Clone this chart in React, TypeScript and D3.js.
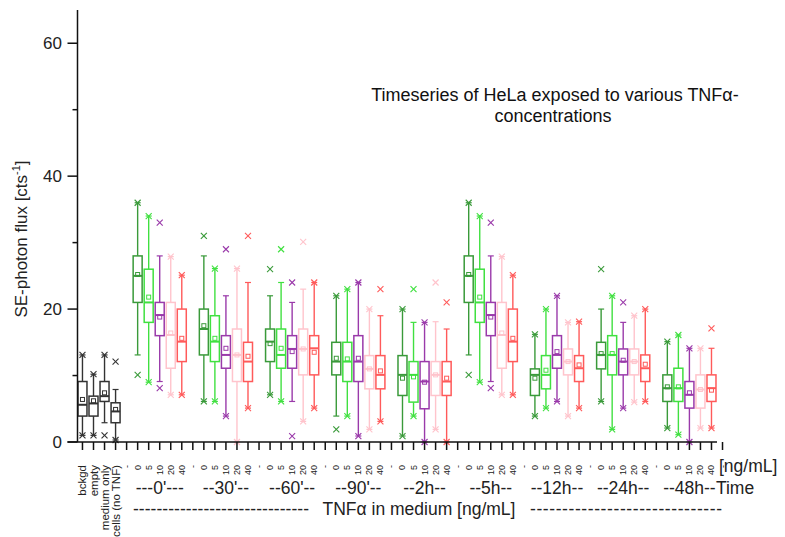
import React from "react";
import * as d3 from "d3";

// ---- data ----
// tuple: [xMarkLow, whiskerLow, q1, median, q3, whiskerHigh, xMarkHigh, mean]
type Stat = [number, number, number, number, number, number, number, number];

const controlLabels = ["bckgd", "empty", "medium only", "cells (no TNF)"];
const controlBoxes: Stat[] = [
  [1.0, 1.0, 3.9, 5.6, 9.1, 13.1, 13.1, 6.4],
  [1.0, 1.0, 3.9, 5.8, 6.9, 10.2, 10.2, 6.2],
  [1.0, 2.9, 6.1, 6.9, 9.1, 13.1, 13.1, 7.4],
  [0.3, 0.3, 2.9, 4.6, 5.9, 7.9, 12.1, 4.9],
];

const concentrations = ["0", "5", "10", "20", "40"];
const seriesColors = ["#3a9a3a", "#40e040", "#9a3aaa", "#ffc4cc", "#ff5a5a"];
const timeLabels = ["---0'---", "--30'--", "--60'--", "--90'--", "--2h--", "--5h--", "--12h--", "--24h--", "--48h--"];

const g0min: Stat[] = [
  [10.1, 13.1, 21.0, 25.0, 28.0, 36.0, 36.0, 25.2],
  [9.0, 9.0, 18.0, 21.0, 26.0, 34.0, 34.0, 21.8],
  [8.1, 9.1, 16.0, 19.1, 21.0, 28.0, 33.0, 18.8],
  [7.1, 7.1, 11.1, 16.1, 21.0, 27.9, 27.9, 16.4],
  [7.1, 7.1, 12.1, 15.1, 20.0, 25.1, 25.1, 15.6],
];
const g30min: Stat[] = [
  [6.1, 6.1, 13.1, 17.0, 20.0, 28.0, 31.0, 17.5],
  [6.1, 6.1, 12.1, 15.1, 19.0, 26.1, 26.1, 15.6],
  [3.9, 3.9, 11.1, 13.1, 16.0, 22.0, 29.0, 14.1],
  [0, 0, 9.1, 13.1, 17.0, 26.1, 26.1, 13.1],
  [5.1, 5.1, 9.1, 12.1, 15.0, 24.0, 31.0, 12.9],
];
const g60min: Stat[] = [
  [7.1, 7.1, 12.1, 15.1, 17.0, 22.0, 26.0, 14.8],
  [6.1, 6.1, 11.1, 13.1, 17.0, 24.0, 29.0, 14.1],
  [0.9, 6.1, 11.1, 14.0, 16.0, 21.0, 24.0, 13.6],
  [3.1, 3.1, 10.1, 14.0, 17.0, 23.0, 30.1, 14.0],
  [5.1, 5.1, 10.1, 14.1, 16.0, 24.0, 24.0, 13.5],
];
const g90min: Stat[] = [
  [1.9, 3.9, 10.1, 12.1, 15.0, 22.0, 22.0, 12.6],
  [3.9, 3.9, 9.1, 12.1, 15.0, 23.0, 23.0, 12.5],
  [0.9, 0.9, 9.1, 12.1, 16.0, 24.0, 24.0, 12.6],
  [1.9, 1.9, 8.0, 11.0, 13.0, 20.0, 20.0, 11.0],
  [3.1, 3.1, 8.0, 10.1, 13.0, 19.0, 23.0, 10.7],
];
const g2h: Stat[] = [
  [0.9, 0.9, 7.0, 10.1, 13.0, 20.0, 20.0, 9.6],
  [3.9, 3.9, 6.0, 10.1, 12.1, 18.0, 23.0, 9.8],
  [0, 0, 5.0, 9.1, 12.1, 18.0, 18.0, 9.0],
  [1.9, 1.9, 7.0, 10.1, 12.1, 18.1, 24.0, 10.1],
  [0, 0, 7.0, 9.1, 12.1, 17.0, 21.0, 9.6],
];
const g5h: Stat[] = [
  [10.1, 13.1, 21.0, 25.0, 28.0, 36.0, 36.0, 25.2],
  [9.0, 9.0, 18.0, 21.0, 26.0, 34.0, 34.0, 21.8],
  [8.1, 9.1, 16.0, 19.1, 21.0, 28.0, 33.0, 18.8],
  [7.1, 7.1, 11.1, 16.1, 21.0, 27.9, 27.9, 16.4],
  [7.1, 7.1, 12.1, 15.1, 20.0, 25.1, 25.1, 15.6],
];
const g12h: Stat[] = [
  [3.9, 3.9, 7.0, 10.1, 11.0, 16.2, 16.2, 9.6],
  [5.1, 5.1, 8.0, 10.1, 13.0, 20.0, 20.0, 10.8],
  [6.1, 6.1, 11.1, 13.1, 16.0, 22.0, 22.0, 13.6],
  [3.9, 3.9, 10.1, 12.1, 14.0, 18.0, 18.0, 12.1],
  [5.1, 5.1, 9.1, 11.1, 13.0, 18.1, 18.1, 11.6],
];
const g24h: Stat[] = [
  [6.1, 6.1, 11.0, 13.1, 15.0, 20.0, 26.0, 13.3],
  [1.9, 1.9, 10.1, 13.1, 16.0, 22.0, 22.0, 13.3],
  [5.1, 5.1, 10.1, 12.1, 14.0, 18.0, 21.0, 12.3],
  [6.0, 6.0, 10.1, 12.1, 14.0, 19.0, 19.0, 12.1],
  [6.1, 6.1, 9.1, 11.1, 13.1, 20.0, 20.0, 11.7],
];
const g48h: Stat[] = [
  [2.1, 2.1, 6.1, 8.1, 10.1, 15.1, 15.1, 8.3],
  [1.1, 1.1, 6.1, 8.1, 11.1, 16.1, 16.1, 8.3],
  [0, 0, 5.1, 7.1, 9.1, 14.1, 14.1, 7.4],
  [2.1, 2.1, 5.1, 7.9, 10.1, 14.1, 14.1, 7.9],
  [2.1, 2.1, 6.1, 8.1, 10.1, 14.1, 17.1, 7.8],
];
const timeGroups = [g0min, g30min, g60min, g90min, g2h, g5h, g12h, g24h, g48h];

const yMajorTicks = [0, 20, 40, 60];
const yMinorTicks = [10, 30, 50];

// ---- layout ----
const W = 785;
const H = 537;
const FONT = "'Liberation Sans', Arial, Helvetica, sans-serif";
const xScale = d3.scaleLinear().domain([-0.45, 57.5]).range([77.5, 717]);
const yScale = d3.scaleLinear().domain([0, 65]).range([442, 10]);
const controlColor = "#333333";

type Slot = { slot: number; stat: Stat; color: string };
const slots: Slot[] = [];
controlBoxes.forEach((s, i) => slots.push({ slot: i, stat: s, color: controlColor }));
timeGroups.forEach((g, gi) =>
  g.forEach((s, k) => slots.push({ slot: 5 + gi * 6 + k, stat: s, color: seriesColors[k] }))
);
const nSlots = 5 + timeGroups.length * 6 - 1; // 0..57

const BW = 4.5;
const CAP = 3;
const XM = 3;

function XMark({ cx, cy, color }: { cx: number; cy: number; color: string }) {
  return (
    <g stroke={color} strokeWidth={1.1} fill="none">
      <line x1={cx - XM} y1={cy - XM} x2={cx + XM} y2={cy + XM} />
      <line x1={cx - XM} y1={cy + XM} x2={cx + XM} y2={cy - XM} />
    </g>
  );
}

function Box({ slot, stat, color }: Slot) {
  const cx = xScale(slot);
  const [xLo, wLo, q1, med, q3, wHi, xHi, mean] = stat;
  const y = yScale;
  return (
    <g>
      <line x1={cx} x2={cx} y1={y(q3)} y2={y(wHi)} stroke={color} strokeWidth={1.4} />
      <line x1={cx} x2={cx} y1={y(q1)} y2={y(wLo)} stroke={color} strokeWidth={1.4} />
      <line x1={cx - CAP} x2={cx + CAP} y1={y(wHi)} y2={y(wHi)} stroke={color} strokeWidth={1.2} />
      <line x1={cx - CAP} x2={cx + CAP} y1={y(wLo)} y2={y(wLo)} stroke={color} strokeWidth={1.2} />
      <rect x={cx - BW} y={y(q3)} width={BW * 2} height={y(q1) - y(q3)} fill="white" stroke={color} strokeWidth={1.5} />
      <line x1={cx - BW} x2={cx + BW} y1={y(med)} y2={y(med)} stroke={color} strokeWidth={2} />
      <rect x={cx - 2} y={y(mean) - 2} width={4} height={4} fill="none" stroke={color} strokeWidth={1} />
      <XMark cx={cx} cy={y(xHi)} color={color} />
      <XMark cx={cx} cy={y(xLo)} color={color} />
    </g>
  );
}

export default function App() {
  const axisY = yScale(0);
  const tickLabelFor = (i: number): string | null => {
    if (i < 4) return null;
    const r = (i - 4) % 6;
    if (r === 0) return "-";
    return concentrations[r - 1];
  };
  const slotIdx = d3.range(0, nSlots + 1);
  return (
    <svg width={W} height={H} style={{ position: "absolute", left: 0, top: 0, background: "white" }} fontFamily={FONT}>
      <rect x={0} y={0} width={W} height={H} fill="white" />
      {/* boxes */}
      {slots.map((s, i) => (
        <Box key={i} {...s} />
      ))}
      {/* y axis */}
      <line x1={xScale.range()[0]} x2={xScale.range()[0]} y1={yScale.range()[1]} y2={axisY} stroke="#111" strokeWidth={1.5} />
      {yMajorTicks.map((t) => (
        <g key={"ym" + t}>
          <line x1={xScale.range()[0] - 10} x2={xScale.range()[0]} y1={yScale(t)} y2={yScale(t)} stroke="#111" strokeWidth={1.5} />
          <text x={62} y={yScale(t) + 6} textAnchor="end" fontSize={17} fill="#222">
            {t}
          </text>
        </g>
      ))}
      {yMinorTicks.map((t) => (
        <line key={"yn" + t} x1={xScale.range()[0] - 5} x2={xScale.range()[0]} y1={yScale(t)} y2={yScale(t)} stroke="#111" strokeWidth={1.5} />
      ))}
      {/* x axis */}
      <line x1={xScale.range()[0] - 10} x2={xScale.range()[1]} y1={axisY} y2={axisY} stroke="#111" strokeWidth={1.5} />
      {slotIdx.map((i) => (
        <line key={"xt" + i} x1={xScale(i)} x2={xScale(i)} y1={axisY} y2={axisY + 8} stroke="#111" strokeWidth={1.5} />
      ))}
      {/* control labels */}
      {controlLabels.map((l, i) => (
        <text key={"cl" + i} transform={`translate(${xScale(i) + 4},465) rotate(-90)`} textAnchor="end" fontSize={11.5} fill="#222">
          {l}
        </text>
      ))}
      {/* concentration labels */}
      {slotIdx.map((i) => {
        const l = tickLabelFor(i);
        if (l === null) return null;
        return (
          <text key={"tl" + i} transform={`translate(${xScale(i) + 3},465) rotate(-90)`} textAnchor="end" fontSize={9} fill="#222">
            {l}
          </text>
        );
      })}
      <text x={719} y={472} fontSize={17.5} fill="#222">
        [ng/mL]
      </text>
      {/* time labels */}
      {timeLabels.map((l, gi) => (
        <text key={"tg" + gi} x={xScale(5 + gi * 6 + 2)} y={494} textAnchor="middle" fontSize={17.5} fill="#222">
          {l}
        </text>
      ))}
      <text x={xScale(55) + 26.5} y={494} fontSize={17.5} fill="#222">
        Time
      </text>
      {/* bottom caption */}
      <text x={133} y={515} fontSize={17.5} fill="#222" textLength={176} lengthAdjust="spacing">
        ------------------------------
      </text>
      <text x={419} y={515} textAnchor="middle" fontSize={17.5} fill="#222">
        TNFα in medium [ng/mL]
      </text>
      <text x={530} y={515} fontSize={17.5} fill="#222" textLength={192} lengthAdjust="spacing">
        ------------------------------
      </text>
      {/* y title */}
      <text transform="translate(27,239) rotate(-90)" textAnchor="middle" fontSize={17} fill="#222">
        SE-photon flux [cts
        <tspan fontSize={11} dy={-7}>-1</tspan>
        <tspan dy={7}>]</tspan>
      </text>
      {/* title */}
      <text x={555} y={101} textAnchor="middle" fontSize={18} fill="#111">
        Timeseries of HeLa exposed to various TNFα-
      </text>
      <text x={553} y={122} textAnchor="middle" fontSize={18} fill="#111">
        concentrations
      </text>
    </svg>
  );
}
